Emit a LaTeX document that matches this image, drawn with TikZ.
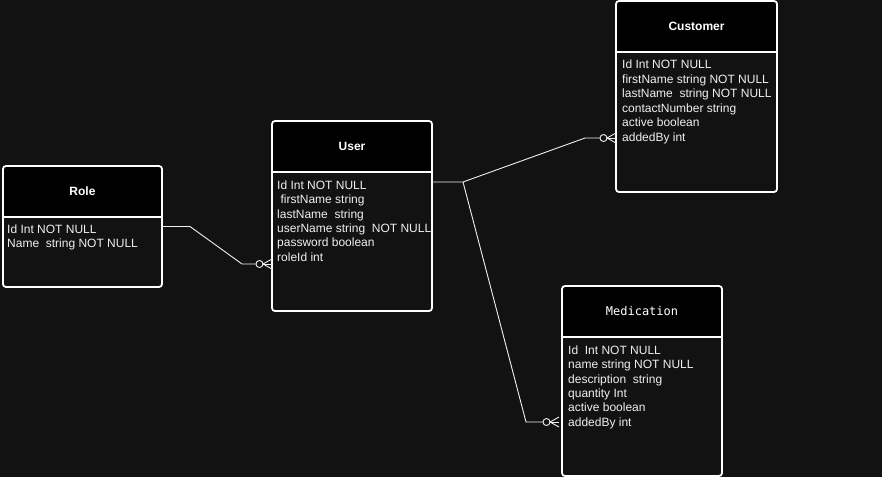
\documentclass[tikz,border=0pt]{standalone}
\usepackage{fontspec}
\setmainfont{Liberation Sans}
\newfontfamily\titlemono{DejaVu Sans Mono}
\usetikzlibrary{calc}
\definecolor{canvas}{RGB}{18,18,18}
\definecolor{ink}{RGB}{240,240,240}
\tikzset{
  frame/.style={draw=white, line width=1.8pt, rounded corners=3pt},
  divider/.style={draw=white, line width=1.4pt},
  conn/.style={draw=ink, line width=0.9pt},
  field/.style={anchor=base west, inner sep=0pt, text=ink,
    font=\fontsize{12}{14.4}\selectfont},
  title/.style={inner sep=0pt, text=white,
    font=\fontsize{12}{14.4}\selectfont\bfseries},
  slot/.style={inner sep=0pt, outer sep=0pt, fill=canvas},
}
% entity table: #1 name, #2 left, #3 top, #4 right, #5 bottom, #6 header bottom
\newcommand\entity[6]{%
  \node[slot, minimum width={(#4-#2)*1pt}, minimum height={(#5-#3)*1pt}]
    (#1) at ({(#2+#4)/2},{(#3+#5)/2}) {};
  \begin{scope}
    \clip (#1.north west) rectangle (#1.east |- 0,#6);
    \fill[black, rounded corners=3pt] (#1.south west) rectangle (#1.north east);
  \end{scope}
  \draw[divider] (#1.west |- 0,#6) -- (#1.east |- 0,#6);
  \draw[frame] (#1.south west) rectangle (#1.north east);
}
% zero-or-many end whose fork tips sit at point #1
\newcommand\zeromany[1]{%
  \draw[conn] ($(#1)+(-12.5,0)$) circle[radius=3.5pt];
  \draw[conn] ($(#1)+(-9,0)$) -- (#1);
  \draw[conn] ($(#1)+(0,-5)$) -- ($(#1)+(-9,0)$) -- ($(#1)+(0,5)$);
}
\begin{document}
\begin{tikzpicture}[x=1pt,y=-1pt]
\fill[canvas] (0,0) rectangle (882,477);
\useasboundingbox (0,0) rectangle (882,477);

% tables
\entity{role}{3}{166}{162}{287}{217}
\entity{user}{272}{121}{432}{311}{172}
\entity{customer}{616}{1}{777}{192}{52}
\entity{medication}{562}{286}{722}{476}{337}

\node[title] (role-t) at (82.5,191.5) {Role};
\node[title] (user-t) at (352,146.5) {User};
\node[title] (customer-t) at (696.5,26.5) {Customer};
\node[title, font=\fontsize{12}{14.4}\selectfont\titlemono] (medication-t) at (642,311.5) {Medication};

\foreach \t [count=\i] in {Id Int NOT NULL, Name\ \ string NOT NULL}
  \node[field] (role-f\i) at (7,{233.3+14.4*(\i-1)}) {\t};
\foreach \t [count=\i] in {Id Int NOT NULL, \ firstName string, lastName\ \ string,
    userName string\ \ NOT NULL, password boolean, roleId int}
  \node[field] (user-f\i) at (277,{189.3+14.4*(\i-1)}) {\t};
\foreach \t [count=\i] in {Id Int NOT NULL, firstName string NOT NULL,
    lastName\ \ string NOT NULL, contactNumber string, active boolean, addedBy int}
  \node[field] (customer-f\i) at (622,{68.5+14.5*(\i-1)}) {\t};
\foreach \t [count=\i] in {Id\ \ Int NOT NULL, name string NOT NULL,
    description\ \ string, quantity Int, active boolean, addedBy int}
  \node[field] (medication-f\i) at (568,{354.3+14.4*(\i-1)}) {\t};

% relationships
\coordinate (role-out) at (role.east);
\coordinate (user-in) at (user.west |- 0,264);
\coordinate (user-out) at (user.east |- 0,182);
\coordinate (hub) at (463,182);
\coordinate (customer-in) at (customer.west |- 0,138);
\coordinate (medication-in) at ($(medication.west |- 0,422)+(-3,0)$);

\draw[conn] (role-out) -- ++(28,0) -- (242,264) -- ($(user-in)+(-16,0)$);
\zeromany{user-in}
\draw[conn] (user-out) -- (hub) -- (585,138) -- ($(customer-in)+(-16,0)$);
\zeromany{customer-in}
\draw[conn] (hub) -- (526,422) -- ($(medication-in)+(-16,0)$);
\zeromany{medication-in}
\end{tikzpicture}
\end{document}
